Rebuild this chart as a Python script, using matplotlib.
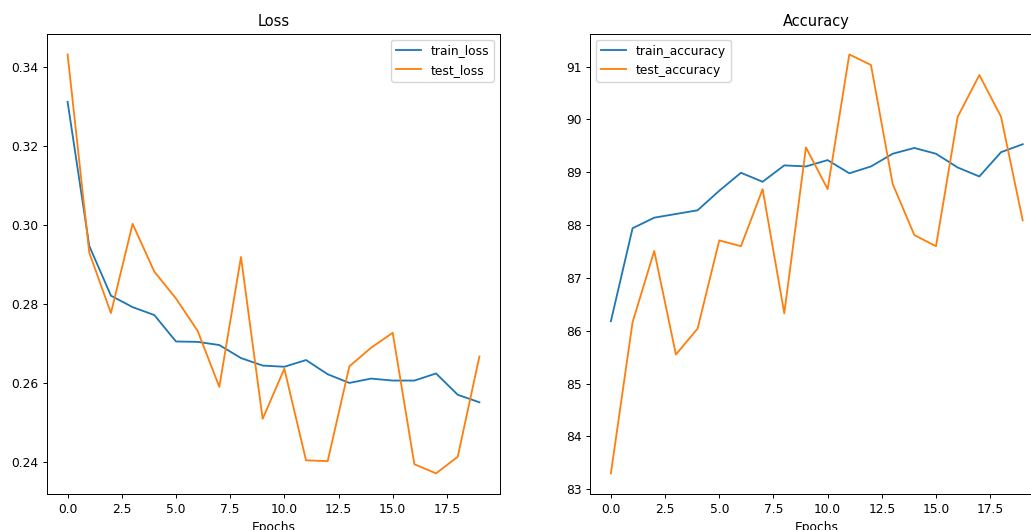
import matplotlib
matplotlib.use("Agg")
import matplotlib.pyplot as plt

epochs = list(range(20))
train_loss = [0.3312, 0.2947, 0.2821, 0.2792, 0.2772, 0.2705, 0.2704, 0.2696, 0.2663, 0.2644,
              0.2641, 0.2658, 0.2622, 0.2600, 0.2611, 0.2606, 0.2606, 0.2624, 0.2570, 0.2551]
test_loss = [0.3432, 0.2930, 0.2777, 0.3003, 0.2882, 0.2814, 0.2732, 0.2590, 0.2919, 0.2509,
             0.2636, 0.2404, 0.2402, 0.2642, 0.2689, 0.2727, 0.2394, 0.2371, 0.2413, 0.2667]
train_accuracy = [86.18, 87.94, 88.14, 88.21, 88.28, 88.65, 88.99, 88.82, 89.13, 89.11,
                  89.23, 88.98, 89.11, 89.35, 89.46, 89.35, 89.09, 88.92, 89.38, 89.53]
test_accuracy = [83.30, 86.16, 87.51, 85.55, 86.04, 87.71, 87.60, 88.68, 86.33, 89.47,
                 88.68, 91.23, 91.03, 88.78, 87.81, 87.60, 90.05, 90.84, 90.05, 88.09]

s = 0.88
plt.rcParams.update({
    "font.size": 10 * s,
    "lines.linewidth": 1.5 * s,
    "axes.linewidth": 0.8 * s,
    "xtick.major.size": 3.5 * s,
    "ytick.major.size": 3.5 * s,
    "xtick.major.width": 0.8 * s,
    "ytick.major.width": 0.8 * s,
    "xtick.major.pad": 3.5 * s,
    "ytick.major.pad": 3.5 * s,
    "axes.titlepad": 6.0 * s,
    "axes.labelpad": 4.0 * s,
    "axes.titlesize": 12 * s,
})

W, H = 1031, 530
fig = plt.figure(figsize=(W / 100, H / 100), dpi=100)

ax1 = fig.add_axes([47 / W, (H - 494.3) / H, 453 / W, 460.8 / H])
ax1.plot(epochs, train_loss, label="train_loss")
ax1.plot(epochs, test_loss, label="test_loss")
ax1.set_title("Loss")
ax1.set_xlabel("Epochs")
ax1.legend(loc="upper right")

ax2 = fig.add_axes([590.3 / W, (H - 494.3) / H, 453 / W, 460.8 / H])
ax2.plot(epochs, train_accuracy, label="train_accuracy")
ax2.plot(epochs, test_accuracy, label="test_accuracy")
ax2.set_title("Accuracy")
ax2.set_xlabel("Epochs")
ax2.legend(loc="upper left")

fig.savefig("out.png", dpi=100)
